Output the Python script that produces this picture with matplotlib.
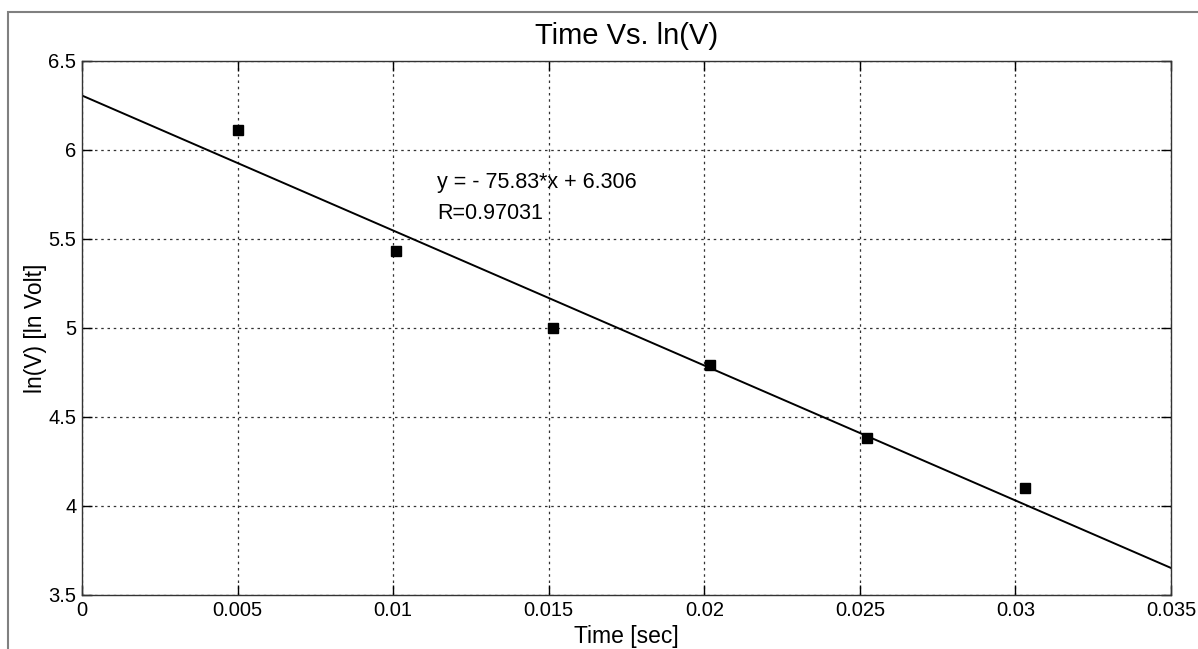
import numpy as np
import matplotlib.pyplot as plt
from matplotlib.patches import Rectangle

plt.rcParams['font.family'] = ['Liberation Sans', 'DejaVu Sans']

# measured points
t_sec = [0.00500, 0.01010, 0.01514, 0.02018, 0.02523, 0.03030]
ln_v = [6.112, 5.433, 5.000, 4.792, 4.382, 4.101]

# linear fit
slope = -75.83
intercept = 6.306
fit_t = [0.0, 0.035]

xticks = [0, 0.005, 0.01, 0.015, 0.02, 0.025, 0.03, 0.035]
xticklabels = ['0', '0.005', '0.01', '0.015', '0.02', '0.025', '0.03', '0.035']
yticks = [3.5, 4, 4.5, 5, 5.5, 6, 6.5]
yticklabels = ['3.5', '4', '4.5', '5', '5.5', '6', '6.5']

W, H = 1198, 649
fig = plt.figure(figsize=(W / 100, H / 100), dpi=100)
fig.patches.append(Rectangle((8 / W, -0.1), 1.2, 1 - 12 / H + 0.1,
                             transform=fig.transFigure, fill=False,
                             edgecolor='#808080', linewidth=1.5))

ax = fig.add_axes([82 / W, (H - 595) / H, (1171 - 82) / W, (595 - 61) / H])

fit_v = [slope * t + intercept for t in fit_t]
ax.plot(fit_t, fit_v, color='black', linewidth=1.4)
ax.plot(t_sec, ln_v, 's', color='black', markersize=6.5)

ax.set_xlim(0, 0.035)
ax.set_ylim(3.5, 6.5)
ax.set_xticks(xticks)
ax.set_xticklabels(xticklabels)
ax.set_yticks(yticks)
ax.set_yticklabels(yticklabels)
ax.tick_params(direction='in', top=True, right=True, length=7, width=1,
               labelsize=14.5, pad=4)
ax.grid(True, color='#333333', linestyle=(0, (2, 3)), linewidth=0.9)
for s in ax.spines.values():
    s.set_linewidth(1)
    s.set_color('#333333')

ax.set_title('Time Vs. ln(V)', fontsize=21, pad=12)
ax.set_xlabel('Time [sec]', fontsize=16.5, labelpad=4)
ax.set_ylabel('ln(V) [ln Volt]', fontsize=16.5, labelpad=1)

ax.text(0.01141, 5.815, 'y = - 75.83*x + 6.306', fontsize=15.5, va='center')
ax.text(0.01141, 5.646, 'R=0.97031', fontsize=15.5, va='center')

fig.savefig('out.png', dpi=100)
